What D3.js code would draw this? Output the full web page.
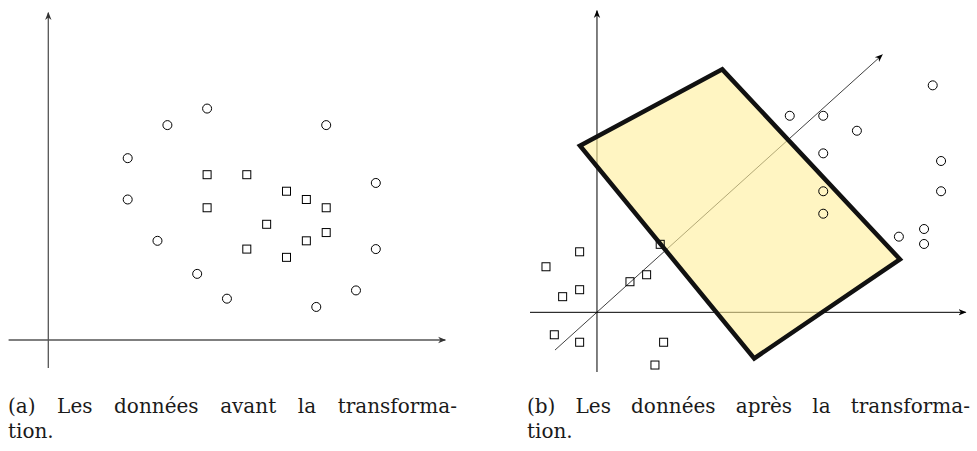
<!DOCTYPE html>
<html>
<head>
<meta charset="utf-8">
<script src="https://cdn.jsdelivr.net/npm/d3@7"></script>
<style>
  html, body { margin: 0; padding: 0; background: #fff; }
  svg { display: block; }
  .cap { font-family: "DejaVu Serif", serif; }
</style>
</head>
<body>
<svg id="fig" width="977" height="451"></svg>
<script>
// Panel (a): raw data, two classes in the original feature space
const beforeCircles = [
  [8, 14], [6, 13], [14, 13], [4, 11], [16.5, 9.5], [4, 8.5],
  [5.5, 6], [16.5, 5.5], [7.5, 4], [15.5, 3], [9, 2.5], [13.5, 2]
];
const beforeSquares = [
  [8, 10], [10, 10], [12, 9], [13, 8.5], [14, 8], [8, 8],
  [11, 7], [14, 6.5], [13, 6], [10, 5.5], [12, 5]
];

// Panel (b): the same classes after the transformation
const afterCircles = [
  [19.75, 13.35], [11.34, 11.56], [13.31, 11.56], [15.29, 10.68],
  [13.31, 9.35], [20.24, 8.9], [20.24, 7.12], [13.31, 7.12],
  [13.31, 5.8], [19.24, 4.9], [17.76, 4.45], [19.24, 4.02]
];
const afterSquares = [
  [3.72, 4.0], [-1.02, 3.56], [-3.0, 2.68], [2.92, 2.21], [1.94, 1.8],
  [-1.02, 1.33], [-2.02, 0.92], [-2.51, -1.32], [-1.02, -1.76],
  [3.92, -1.76], [3.41, -3.1]
];
// projection direction and the separating band
const directionLine = [[-2.47, -2.22], [16.78, 15.14]];
const bandCorners = [[-1.0, 9.8], [7.37, 14.29], [17.82, 3.12], [9.25, -2.71]];

// axis extents per panel
const axisA = { x: [-2, 20], y: [-1.7, 19.8] };
const axisB = { x: [-3.94, 21.69], y: [-3.51, 17.74] };

const captionA = ["(a) Les données avant la transforma-", "tion."];
const captionB = ["(b) Les données après la transforma-", "tion."];

const svg = d3.select("#fig");

const defs = svg.append("defs");
function arrowMarker(id, color) {
  defs.append("marker")
    .attr("id", id)
    .attr("viewBox", "0 0 10 10")
    .attr("refX", 9).attr("refY", 5)
    .attr("markerUnits", "userSpaceOnUse")
    .attr("markerWidth", 8).attr("markerHeight", 8)
    .attr("orient", "auto")
    .append("path")
    .attr("d", "M0,1 L10,5 L0,9 L3,5 Z")
    .attr("fill", color);
}
arrowMarker("arrGray", "#333");
arrowMarker("arrBlack", "#000");

function drawAxes(g, x, y, ext, color, width, marker) {
  g.append("line")
    .attr("x1", x(ext.x[0])).attr("y1", y(0))
    .attr("x2", x(ext.x[1])).attr("y2", y(0))
    .attr("stroke", color).attr("stroke-width", width)
    .attr("marker-end", `url(#${marker})`);
  g.append("line")
    .attr("x1", x(0)).attr("y1", y(ext.y[0]))
    .attr("x2", x(0)).attr("y2", y(ext.y[1]))
    .attr("stroke", color).attr("stroke-width", width)
    .attr("marker-end", `url(#${marker})`);
}

const R = 4.5, S = 8;
function drawPoints(g, x, y, circles, squares) {
  g.selectAll("circle.pt").data(circles).join("circle")
    .attr("class", "pt")
    .attr("cx", d => x(d[0])).attr("cy", d => y(d[1]))
    .attr("r", R)
    .attr("fill", "none").attr("stroke", "#000").attr("stroke-width", 1);
  g.selectAll("rect.pt").data(squares).join("rect")
    .attr("class", "pt")
    .attr("x", d => x(d[0]) - S / 2).attr("y", d => y(d[1]) - S / 2)
    .attr("width", S).attr("height", S)
    .attr("fill", "none").attr("stroke", "#000").attr("stroke-width", 1);
}

// ---- panel (a)
const xA = d3.scaleLinear().domain(axisA.x).range([8.6, 445.3]);
const yA = d3.scaleLinear().domain(axisA.y).range([368.1, 12.7]);
const gA = svg.append("g");
drawAxes(gA, xA, yA, axisA, "#555", 1.3, "arrGray");
drawPoints(gA, xA, yA, beforeCircles, beforeSquares);

// ---- panel (b)
const xB = d3.scaleLinear().domain(axisB.x).range([530, 965.7]);
const yB = d3.scaleLinear().domain(axisB.y).range([372, 10.7]);
const gB = svg.append("g");
drawAxes(gB, xB, yB, axisB, "#000", 1, "arrBlack");
gB.append("line")
  .attr("x1", xB(directionLine[0][0])).attr("y1", yB(directionLine[0][1]))
  .attr("x2", xB(directionLine[1][0])).attr("y2", yB(directionLine[1][1]))
  .attr("stroke", "#000").attr("stroke-width", 0.75)
  .attr("marker-end", "url(#arrBlack)");
const bandPath = d3.line().x(d => xB(d[0])).y(d => yB(d[1])).curve(d3.curveLinearClosed)(bandCorners);
// translucent band fill sits over the axes, markers and outline on top
gB.append("path")
  .attr("d", bandPath)
  .attr("fill", "#ffee99").attr("fill-opacity", 0.6)
  .attr("stroke", "none");
drawPoints(gB, xB, yB, afterCircles, afterSquares);
gB.append("path")
  .attr("d", bandPath)
  .attr("fill", "none")
  .attr("stroke", "#111").attr("stroke-width", 4.5)
  .attr("stroke-linejoin", "miter");

// ---- captions, first line justified to the column width
function caption(lines, x0, x1) {
  const g = svg.append("g")
    .attr("class", "cap")
    .style("font-size", "20px")
    .attr("fill", "#1a1a1a");
  const t1 = g.append("text").attr("x", x0).attr("y", 413).text(lines[0]);
  const natural = t1.node().getComputedTextLength();
  const gaps = lines[0].split(" ").length - 1;
  t1.style("word-spacing", Math.max(0, (x1 - x0 - natural) / gaps) + "px");
  g.append("text").attr("x", x0).attr("y", 438).text(lines[1]);
}
caption(captionA, 8, 457);
caption(captionB, 527, 970);
</script>
</body>
</html>
